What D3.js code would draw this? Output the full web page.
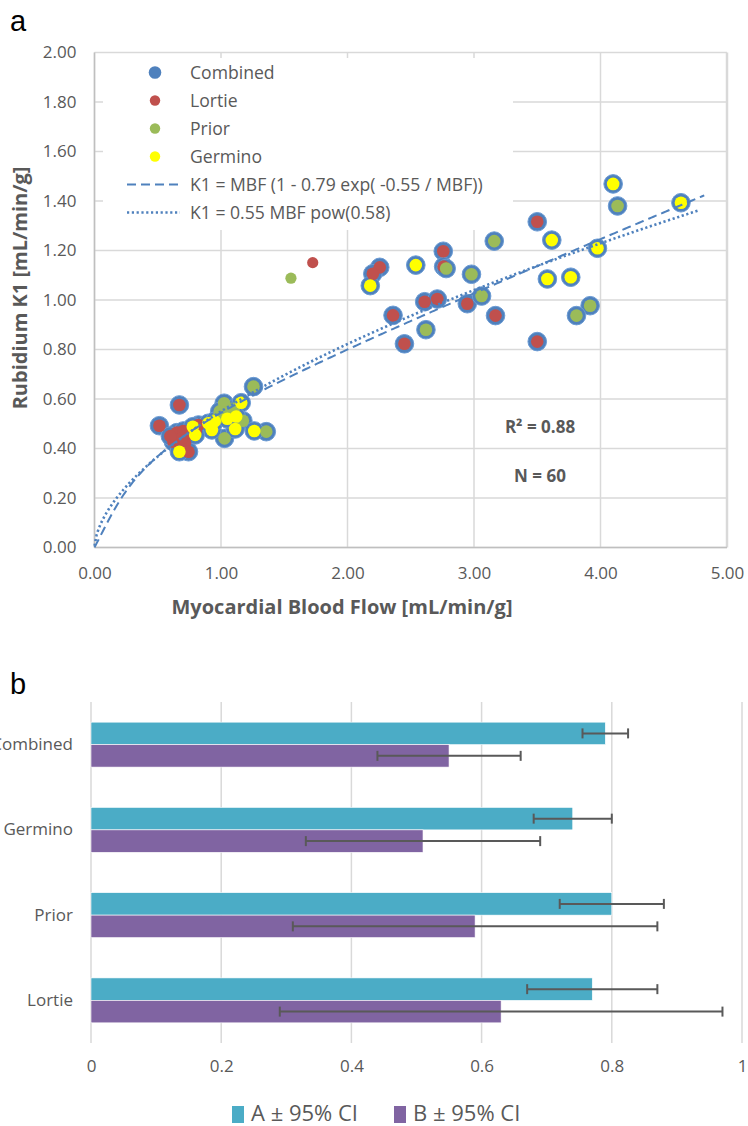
<!DOCTYPE html>
<html>
<head>
<meta charset="utf-8">
<script src="https://cdn.jsdelivr.net/npm/d3@7.9.0/dist/d3.min.js"></script>
<style>
  body { margin: 0; background: #fff; }
  svg { display: block; font-family: "Open Sans", sans-serif; }
</style>
</head>
<body>
<svg id="chart" width="748" height="1126"></svg>
<script>
// ---------- panel a : [MBF, K1] ----------
const lortie = [
  [3.50, 1.316], [2.757, 1.197], [2.76, 1.135], [2.255, 1.132], [2.20, 1.106],
  [2.947, 0.985], [2.61, 0.993], [2.71, 1.004], [2.36, 0.938], [3.17, 0.937],
  [2.45, 0.823], [3.50, 0.832],
  [0.671, 0.576], [0.513, 0.492], [0.651, 0.464], [0.703, 0.471], [0.822, 0.495],
  [0.624, 0.427], [0.715, 0.421], [0.743, 0.387], [0.76, 0.46], [0.69, 0.44],
  [0.60, 0.45], [0.80, 0.47]
];
const prior = [
  [3.16, 1.238], [2.78, 1.127], [2.98, 1.104], [3.06, 1.016], [2.62, 0.880],
  [4.135, 1.38], [3.918, 0.977], [3.81, 0.937],
  [1.257, 0.650], [1.025, 0.583], [1.073, 0.553], [0.972, 0.522], [1.173, 0.512],
  [1.358, 0.468], [1.028, 0.441], [1.10, 0.56], [0.99, 0.55]
];
const germino = [
  [3.615, 1.242], [2.54, 1.141], [2.18, 1.058], [3.58, 1.085], [4.10, 1.469],
  [4.636, 1.393], [3.976, 1.209], [3.765, 1.092],
  [1.16, 0.585], [1.12, 0.529], [0.90, 0.502], [0.928, 0.475], [1.112, 0.479],
  [1.263, 0.471], [0.777, 0.488], [0.796, 0.455], [0.671, 0.387], [0.95, 0.51],
  [1.05, 0.52]
];
// points shown but left out of the combined fit
const lortieExcluded = [[1.725, 1.151]];
const priorExcluded = [[1.553, 1.088]];

const scatterXTicks = [0, 1, 2, 3, 4, 5];
const scatterYTicks = [0, 0.2, 0.4, 0.6, 0.8, 1.0, 1.2, 1.4, 1.6, 1.8, 2.0];
const fitExpLabel = "K1 = MBF (1 - 0.79 exp( -0.55 / MBF))";
const fitPowLabel = "K1 = 0.55 MBF pow(0.58)";
const r2Label = "R\u00B2 = 0.88";
const nLabel = "N = 60";

// ---------- panel b ----------
const studies = ["Combined", "Germino", "Prior", "Lortie"];
const paramA = [0.79, 0.74, 0.80, 0.77];
const paramACI = [0.035, 0.06, 0.08, 0.10];
const paramB = [0.55, 0.51, 0.59, 0.63];
const paramBCI = [0.11, 0.18, 0.28, 0.34];
const barTicks = [0, 0.2, 0.4, 0.6, 0.8, 1];
const barSeries = ["A \u00B1 95% CI", "B \u00B1 95% CI"];

const C = {
  blue: "#4F81BD", red: "#C0504D", green: "#9BBB59", yellow: "#FFFF00",
  grid: "#d9d9d9", text: "#595959", teal: "#4BACC6", purple: "#8064A2"
};

const svg = d3.select("#chart");

// ================= panel a =================
const x = d3.scaleLinear().domain([0, 5]).range([94.5, 727]);
const y = d3.scaleLinear().domain([0, 2]).range([547.5, 52.5]);

svg.append("text").attr("x", 10).attr("y", 31)
  .attr("font-family", "Liberation Sans, Arial, sans-serif")
  .attr("font-size", 29).attr("fill", "#000").text("a");

const gA = svg.append("g");

// grid
gA.append("g").selectAll("line").data(scatterYTicks).join("line")
  .attr("x1", x(0)).attr("x2", x(5))
  .attr("y1", d => y(d)).attr("y2", d => y(d))
  .attr("stroke", C.grid).attr("stroke-width", 1.5);
gA.append("g").selectAll("line").data(scatterXTicks).join("line")
  .attr("x1", d => x(d)).attr("x2", d => x(d))
  .attr("y1", y(0)).attr("y2", y(2))
  .attr("stroke", C.grid).attr("stroke-width", d => d === 5 ? 2.5 : 1.5);
// axis lines
gA.append("line").attr("x1", x(0)).attr("x2", x(5)).attr("y1", y(0)).attr("y2", y(0))
  .attr("stroke", "#bfbfbf").attr("stroke-width", 1.5);
gA.append("line").attr("x1", x(0)).attr("x2", x(0)).attr("y1", y(0)).attr("y2", y(2))
  .attr("stroke", "#bfbfbf").attr("stroke-width", 1.5);

// axes labels
const xAxis = gA.append("g").attr("transform", `translate(0,${y(0)})`)
  .call(d3.axisBottom(x).tickValues(scatterXTicks).tickFormat(d3.format(".2f")).tickSize(0).tickPadding(19));
const yAxis = gA.append("g").attr("transform", `translate(${x(0)},0)`)
  .call(d3.axisLeft(y).tickValues(scatterYTicks).tickFormat(d3.format(".2f")).tickSize(0).tickPadding(18));
[xAxis, yAxis].forEach(a => {
  a.select(".domain").remove();
  a.selectAll("text").attr("font-size", 17).attr("fill", C.text)
    .attr("font-family", "Open Sans, sans-serif");
});

gA.append("text").attr("x", 342).attr("y", 614).attr("text-anchor", "middle")
  .attr("font-size", 20).attr("font-weight", "bold").attr("fill", C.text)
  .text("Myocardial Blood Flow [mL/min/g]");
gA.append("text").attr("transform", "translate(27,288) rotate(-90)").attr("text-anchor", "middle")
  .attr("font-size", 20).attr("font-weight", "bold").attr("fill", C.text)
  .text("Rubidium K1 [mL/min/g]");

// legend box (covers grid)
gA.append("rect").attr("x", 103).attr("y", 58).attr("width", 410).attr("height", 172).attr("fill", "#fff");

// fit curves
const fitExp = m => m * (1 - 0.79 * Math.exp(-0.55 / m));
const fitPow = m => 0.55 * Math.pow(m, 0.58);
const curve = (f, xmax) => d3.range(0, 301).map(i => {
  const m = 0.0005 + (xmax - 0.0005) * i / 300;
  return [m, f(m)];
});
const line = d3.line().x(d => x(d[0])).y(d => y(d[1]));

// markers (Excel order: Combined, Lortie, Prior, Germino)
const combined = lortie.concat(prior, germino);
gA.append("g").selectAll("circle").data(combined).join("circle")
  .attr("cx", d => x(d[0])).attr("cy", d => y(d[1])).attr("r", 9.3)
  .attr("fill", C.blue).attr("stroke", "#6b9bd4").attr("stroke-width", 1);

[[lortie, C.red, 6.3], [lortieExcluded, C.red, 5.6],
 [prior, C.green, 6.3], [priorExcluded, C.green, 5.6],
 [germino, C.yellow, 6.3]].forEach(([pts, col, r]) => {
  gA.append("g").selectAll("circle").data(pts).join("circle")
    .attr("cx", d => x(d[0])).attr("cy", d => y(d[1])).attr("r", r).attr("fill", col);
});

gA.append("path").attr("d", line(curve(fitExp, 4.82))).attr("fill", "none")
  .attr("stroke", C.blue).attr("stroke-width", 2).attr("stroke-dasharray", "9,5");
gA.append("path").attr("d", line(curve(fitPow, 4.77))).attr("fill", "none")
  .attr("stroke", C.blue).attr("stroke-width", 2.6).attr("stroke-dasharray", "2.2,2.6");

// legend content
const legendRows = [
  { label: "Combined", type: "dot", color: C.blue, r: 6.3 },
  { label: "Lortie", type: "dot", color: C.red, r: 5.2 },
  { label: "Prior", type: "dot", color: C.green, r: 5.2 },
  { label: "Germino", type: "dot", color: C.yellow, r: 5.2 },
  { label: fitExpLabel, type: "line", dash: "9,5", w: 2 },
  { label: fitPowLabel, type: "line", dash: "2.2,2.6", w: 2.6 }
];
const leg = gA.append("g");
legendRows.forEach((row, i) => {
  const cy = 72.5 + i * 28;
  if (row.type === "dot") {
    leg.append("circle").attr("cx", 155).attr("cy", cy).attr("r", row.r).attr("fill", row.color);
  } else {
    leg.append("line").attr("x1", 127).attr("x2", 180).attr("y1", cy).attr("y2", cy)
      .attr("stroke", C.blue).attr("stroke-width", row.w).attr("stroke-dasharray", row.dash);
  }
  leg.append("text").attr("x", 190).attr("y", cy + 6).attr("font-size", 17.6).attr("fill", C.text)
    .text(row.label);
});

gA.append("text").attr("x", 540).attr("y", 433).attr("text-anchor", "middle")
  .attr("font-size", 17).attr("font-weight", "bold").attr("fill", C.text).text(r2Label);
gA.append("text").attr("x", 540).attr("y", 482).attr("text-anchor", "middle")
  .attr("font-size", 17).attr("font-weight", "bold").attr("fill", C.text).text(nLabel);

// ================= panel b =================
svg.append("text").attr("x", 10).attr("y", 694)
  .attr("font-family", "Liberation Sans, Arial, sans-serif")
  .attr("font-size", 29).attr("fill", "#000").text("b");

const bx = d3.scaleLinear().domain([0, 1]).range([91, 742]);
const by = d3.scaleBand().domain(studies).range([702, 1043]).paddingInner(0.473).paddingOuter(0.2365);
const sub = d3.scaleBand().domain([0, 1]).range([0, by.bandwidth()]);

const gB = svg.append("g");
gB.append("g").selectAll("line").data(barTicks).join("line")
  .attr("x1", d => bx(d)).attr("x2", d => bx(d)).attr("y1", 702).attr("y2", 1043)
  .attr("stroke", C.grid).attr("stroke-width", 1.5);

const bxAxis = gB.append("g").attr("transform", "translate(0,1043)")
  .call(d3.axisBottom(bx).tickValues(barTicks).tickFormat(d3.format("")).tickSize(0).tickPadding(17));
const byAxis = gB.append("g").attr("transform", "translate(91,0)")
  .call(d3.axisLeft(by).tickSize(0).tickPadding(18));
[bxAxis, byAxis].forEach(a => {
  a.select(".domain").remove();
  a.selectAll("text").attr("font-size", 17).attr("fill", C.text)
    .attr("font-family", "Open Sans, sans-serif");
});

const series = [
  { vals: paramA, ci: paramACI, color: C.teal },
  { vals: paramB, ci: paramBCI, color: C.purple }
];
series.forEach((s, si) => {
  const g = gB.append("g");
  g.selectAll("rect").data(studies).join("rect")
    .attr("x", bx(0)).attr("y", d => by(d) + sub(si))
    .attr("width", (d, i) => bx(s.vals[i]) - bx(0)).attr("height", sub.bandwidth())
    .attr("fill", s.color).attr("stroke", "#fff").attr("stroke-width", 0.6);
});
series.forEach((s, si) => {
  studies.forEach((d, i) => {
    const cy = by(d) + sub(si) + sub.bandwidth() / 2;
    const lo = bx(s.vals[i] - s.ci[i]), hi = bx(s.vals[i] + s.ci[i]);
    const e = gB.append("g").attr("stroke", C.text).attr("stroke-width", 2);
    e.append("line").attr("x1", lo).attr("x2", hi).attr("y1", cy).attr("y2", cy);
    e.append("line").attr("x1", lo).attr("x2", lo).attr("y1", cy - 5).attr("y2", cy + 5);
    e.append("line").attr("x1", hi).attr("x2", hi).attr("y1", cy - 5).attr("y2", cy + 5);
  });
});

const bLeg = [{ x: 232, color: C.teal }, { x: 394, color: C.purple }];
bLeg.forEach((l, i) => {
  gB.append("rect").attr("x", l.x).attr("y", 1106).attr("width", 12).attr("height", 17).attr("fill", l.color);
  gB.append("text").attr("x", l.x + 19).attr("y", 1121).attr("font-size", 22).attr("fill", C.text)
    .text(barSeries[i]);
});
</script>
</body>
</html>
